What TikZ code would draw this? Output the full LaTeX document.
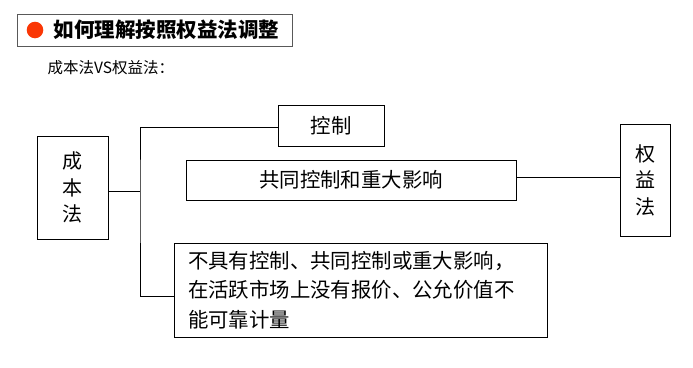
\documentclass[tikz,border=0pt]{standalone}
\usepackage{fontspec}
\setmainfont{Noto Sans CJK SC}
\usetikzlibrary{positioning}
\definecolor{dotred}{RGB}{250,55,5}

\begin{document}
\begin{tikzpicture}[x=1pt, y=-1pt,
  box/.style={draw, line width=1pt, inner sep=0pt, font=\fontsize{20.4}{29.5}\selectfont,
              minimum width=#1},
  box/.default=50pt, vbox/.style={box=#1, align=center, font=\fontsize{20}{26.5}\selectfont}]
\useasboundingbox (0,0) rectangle (693,367);
% title
\node[draw=black!65, line width=1pt, minimum width=275pt, minimum height=32pt] (title) at (154.5,30) {};
\fill[dotred] (35,30) circle (8.3pt);
\node[anchor=west, font=\fontsize{20.5}{24}\selectfont\bfseries] (ttext) at (50,30) {如何理解按照权益法调整};
\node[anchor=west, font=\fontsize{15.5}{18}\selectfont] (sub) at (44,68) {成本法VS权益法：};
% boxes
\node[vbox=71pt, minimum height=103pt] (cbf) at (72.5,187.5) {成\\本\\法};
\node[box=106pt, minimum height=41pt] (kz) at (331,125.5) {控制};
\node[box=330pt, minimum height=40pt] (gt) at (351,180) {共同控制和重大影响};
\node[box=373pt, minimum height=94pt, align=left, text width=345pt] (bj) at (360.5,290)
  {不具有控制、共同控制或重大影响，\\在活跃市场上没有报价、公允价值不\\能可靠计量};
\node[vbox=50pt, minimum height=112pt] (qyf) at (645,180) {权\\益\\法};
% lines
\coordinate (j) at (140,191);
\draw[line width=1pt] ([yshift=-3.5pt]cbf.east) -- (j);
\draw[line width=1pt] ([yshift=-1.5pt]kz.west) -| (j) |- ([yshift=-6pt]bj.west);
\draw[line width=1pt] ([yshift=3pt]gt.east) -- ([yshift=3pt]gt.east -| qyf.west);
\end{tikzpicture}
\end{document}
